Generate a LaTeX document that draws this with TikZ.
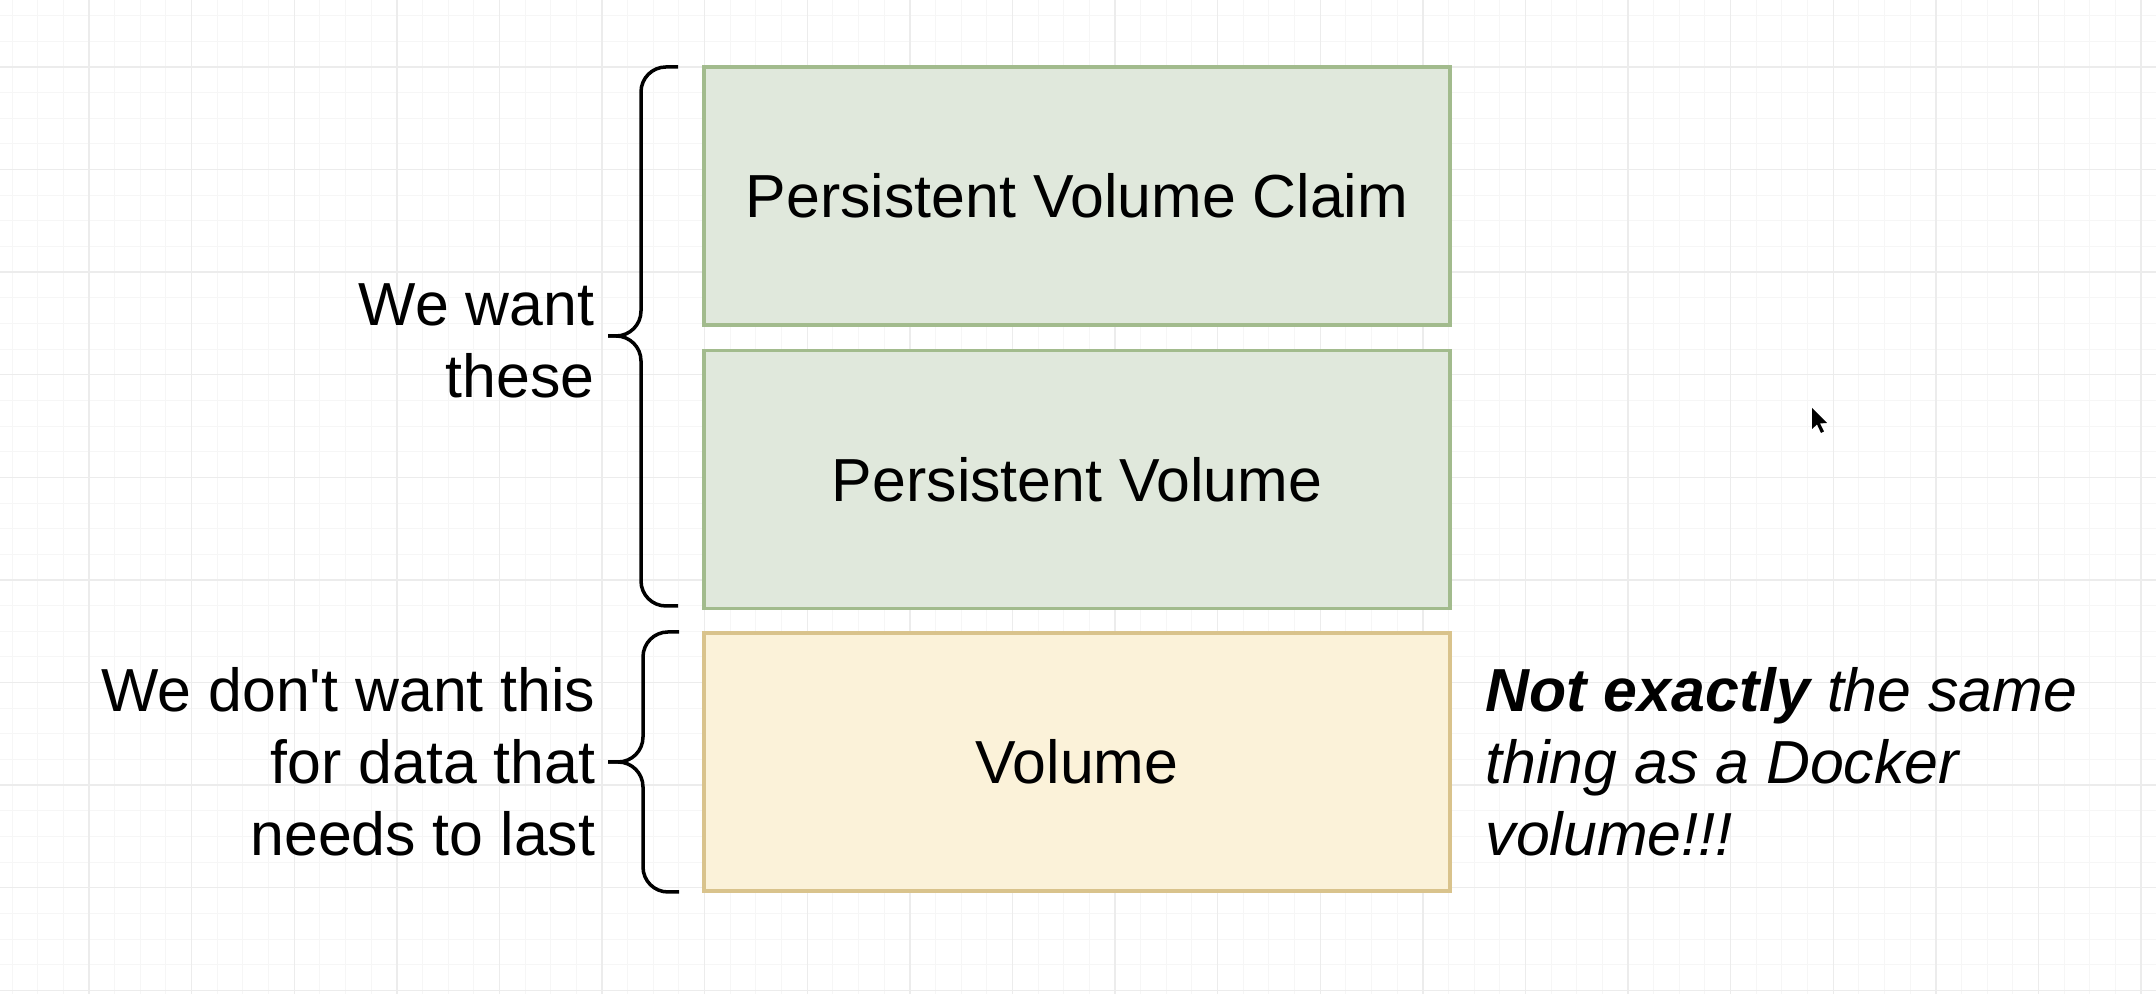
\documentclass[tikz,border=0pt]{standalone}
\usepackage{fontspec}
\setmainfont{Liberation Sans}
\usepackage{tikz}

\definecolor{pvfill}{HTML}{E0E8DC}
\definecolor{pvline}{HTML}{A2BB8D}
\definecolor{volfill}{HTML}{FBF2D9}
\definecolor{volline}{HTML}{D9C38C}
\definecolor{gridmajor}{HTML}{ECECEC}
\definecolor{gridminor}{HTML}{F6F6F6}

\begin{document}
\begin{tikzpicture}
				[box/.style={rectangle,draw,line width=1.1pt,minimum width=7.46cm,minimum height=2.58cm,inner sep=0pt,font=\fontsize{17.3}{20.5}\selectfont},
				pvbox/.style={box,fill=pvfill,draw=pvline},
				volbox/.style={box,fill=volfill,draw=volline},
				label/.style={inner sep=0pt,font=\fontsize{17.3}{20.5}\selectfont},
				brace/.style={line width=1pt,rounded corners=0.25cm},
				minor/.style={gridminor,line width=0.3pt},
				major/.style={gridmajor,line width=0.4pt}]
				\useasboundingbox (0,0) rectangle (21.56,9.94);
				\fill[white] (0,0) rectangle (21.56,9.94);
				
				\foreach \i in {0,...,83}
				\draw[minor] ({0.1205+0.2565*\i},0) -- ++(0,9.94);
				\foreach \i in {0,...,38}
				\draw[minor] (0,{9.783-0.2565*\i}) -- ++(21.56,0);
				\foreach \i in {0,...,20}
				\draw[major] ({0.89+1.026*\i},0) -- ++(0,9.94);
				\foreach \i in {0,...,9}
				\draw[major] (0,{9.27-1.026*\i}) -- ++(21.56,0);
				
				\node[pvbox] (pvc) at (10.77,7.98) {Persistent Volume Claim};
				\node[pvbox] (pv) at (10.77,5.145) {Persistent Volume};
				\node[volbox] (vol) at (10.77,2.32) {Volume};
				
				\coordinate (top1) at (6.78,9.27);
				\coordinate (tip1) at (6.08,6.58);
				\coordinate (bot1) at (6.78,3.88);
				\coordinate (top2) at (6.79,3.62);
				\coordinate (tip2) at (6.08,2.32);
				\coordinate (bot2) at (6.79,1.02);
				
				\draw[brace] (tip1) -- ++(0.33,0) |- (top1);
				\draw[brace] (tip1) -- ++(0.33,0) |- (bot1);
				\draw[brace] (tip2) -- ++(0.35,0) |- (top2);
				\draw[brace] (tip2) -- ++(0.35,0) |- (bot2);
				
				\node[label,anchor=east,align=right] (want) at (5.95,6.53) {We want\\these};
				\node[label,anchor=east,align=right] (dont) at (5.96,2.32) {We don\textquotesingle t want this\\for data that\\needs to last};
				\node[label,anchor=west,align=left,font=\fontsize{17.3}{20.5}\selectfont\itshape] (note) at (14.85,2.32) {\textbf{Not exactly} the same\\thing as a Docker\\volume!!!};
				
				\coordinate (cur) at (18.12,5.86);
				\fill (cur) -- ++(0,-0.21) -- ++(0.05,0.045) -- ++(0.04,-0.085) -- ++(0.03,0.015) -- ++(-0.04,0.08) -- ++(0.07,0.005) -- cycle;
				\end{tikzpicture}
\end{document}
